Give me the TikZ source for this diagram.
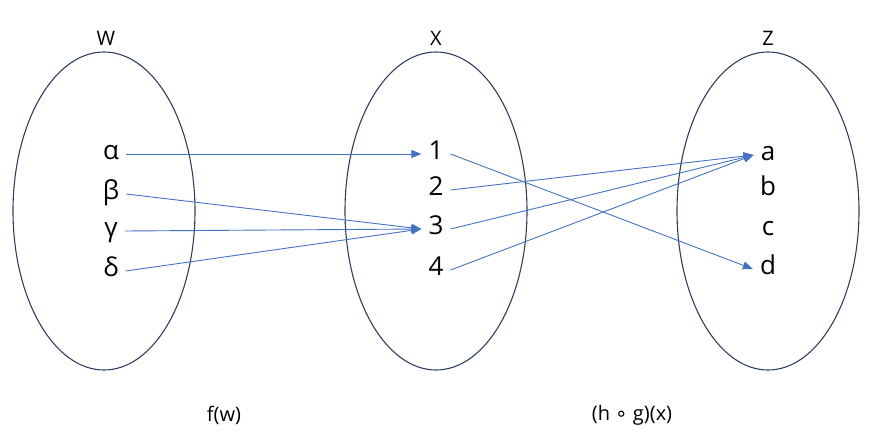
\documentclass[tikz,border=0pt]{standalone}
\usepackage{fontspec}
\setmainfont{Open Sans}
\newfontfamily\symfont{DejaVu Sans}
\usetikzlibrary{arrows.meta,shapes.geometric}
\definecolor{ringcol}{HTML}{2F3F63}
\definecolor{arrcol}{HTML}{4472C4}
\begin{document}
\begin{tikzpicture}[x=1pt,y=-1pt,
  setring/.style={draw=ringcol, line width=1.1pt, ellipse, minimum width=182pt, minimum height=318pt, inner sep=0pt},
  setname/.style={font=\fontsize{20}{24}\selectfont, inner sep=0pt},
  elem/.style={font=\fontsize{26}{30}\selectfont, inner sep=7pt, text height=14pt, text depth=3pt},
  fname/.style={font=\fontsize{20}{24}\selectfont, inner sep=0pt},
  arr/.style={draw=arrcol, line width=0.9pt, -{Triangle[length=10pt,width=8pt]}}]
\useasboundingbox (0,0) rectangle (878,444);
% sets
\node[setring] (W) at (104,211) {};
\node[setring] (X) at (436,211) {};
\node[setring] (Z) at (768,211) {};
\node[setname] (lW) at (106,38) {W};
\node[setname] (lX) at (436,38) {X};
\node[setname] (lZ) at (768,38) {Z};
% elements of W
\node[elem] (al) at (111,154) {α};
\node[elem] (be) at (111,194) {β};
\node[elem] (ga) at (111,231) {γ};
\node[elem] (de) at (111,271) {δ};
% elements of X
\node[elem] (n1) at (436,154) {1};
\node[elem] (n2) at (436,190) {2};
\node[elem] (n3) at (436,229) {3};
\node[elem] (n4) at (436,270) {4};
% elements of Z
\node[elem] (za) at (768,155) {a};
\node[elem] (zb) at (768,190) {b};
\node[elem] (zc) at (768,230) {c};
\node[elem] (zd) at (768,269) {d};
% function labels
\node[fname] (fw) at (224,415) {f(w)};
\node[fname] (hg) at (632,415) {(h {\symfont ∘} g)(x)};
% arrows
\draw[arr] (al.east) -- (n1.west);
\draw[arr] (be.east) -- (n3.west);
\draw[arr] (ga.east) -- (n3.west);
\draw[arr] (de.east) -- (n3.west);
\draw[arr] (n1.east) -- (zd.west);
\draw[arr] (n2.east) -- (za.west);
\draw[arr] (n3.east) -- (za.west);
\draw[arr] (n4.east) -- (za.west);
\end{tikzpicture}
\end{document}
